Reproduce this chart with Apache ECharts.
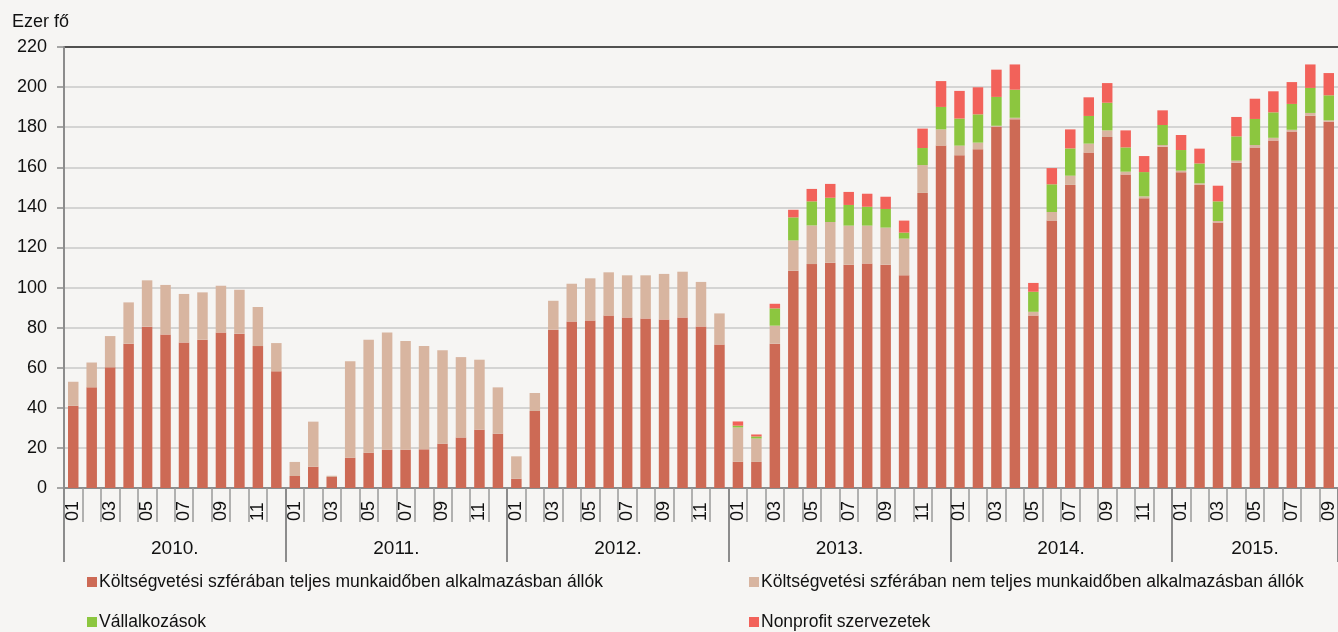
<!DOCTYPE html>
<html>
<head>
<meta charset="utf-8">
<script src="https://cdn.jsdelivr.net/npm/echarts@6/dist/echarts.min.js"></script>
<style>
html,body{margin:0;padding:0;background:#f6f5f3;}
#chart{width:1338px;height:632px;}
</style>
</head>
<body>
<div id="chart"></div>
<script>
const years = ['2010.', '2011.', '2012.', '2013.', '2014.', '2015.'];
const monthsPerYear = [12, 12, 12, 12, 12, 9];
const monthLabels = ['01','02','03','04','05','06','07','08','09','10','11','12'];
const yTicks = [0, 20, 40, 60, 80, 100, 120, 140, 160, 180, 200, 220];

const seriesNames = [
  'Költségvetési szférában teljes munkaidőben alkalmazásban állók',
  'Költségvetési szférában nem teljes munkaidőben alkalmazásban állók',
  'Vállalkozások',
  'Nonprofit szervezetek'
];

const fullTime = [
  41, 50.2, 60.2, 72, 80.5, 76.6, 72.6, 74, 77.6, 77, 70.8, 58.2,
  6, 10.6, 5.5, 15.1, 17.6, 19.1, 19.1, 19.3, 22.1, 25.2, 29.1, 27.1,
  4.6, 38.4, 79, 83.1, 83.6, 86, 85.1, 84.6, 84.1, 85.1, 80.6, 71.6,
  13.1, 13, 72, 108.4, 111.7, 112.4, 111.4, 112, 111.4, 106.1, 147.2, 170.8,
  166, 169, 180.1, 183.9, 86.1, 133.4, 151.2, 167.4, 175.1, 156.4, 144.5, 170.3,
  157.5, 151.2, 132.4, 162.3, 169.9, 173.4, 177.9, 185.7, 182.7
];
const partTime = [
  12, 12.4, 15.6, 20.6, 23.1, 24.7, 24.2, 23.6, 23.3, 21.9, 19.5, 14.1,
  7, 22.5, 0.6, 48.1, 56.4, 58.5, 54.2, 51.5, 46.6, 40.1, 34.9, 23.1,
  11.2, 9, 14.4, 18.8, 21, 21.6, 21, 21.5, 22.7, 22.8, 22.2, 15.5,
  17.1, 11.7, 9, 15.1, 19.3, 20.3, 19.5, 18.9, 18.5, 18.3, 13.9, 8.1,
  4.8, 3.3, 0.6, 0.8, 1.8, 4.3, 4.6, 4.4, 3.3, 1.4, 1.0, 0.8,
  0.8, 0.8, 0.8, 1, 1.2, 1.3, 0.8, 1.4, 0.7
];
const enterprises = [
  null, null, null, null, null, null, null, null, null, null, null, null,
  null, null, null, null, null, null, null, null, null, null, null, null,
  null, null, null, null, null, null, null, null, null, null, null, null,
  0.9, 1.0, 8.6, 11.5, 12, 12.1, 10.3, 9.4, 9.3, 3.0, 8.5, 11.2,
  13.5, 14.1, 14.4, 14, 10, 13.8, 13.6, 13.8, 13.8, 12.1, 12.1, 10,
  10.3, 9.9, 9.8, 12.1, 13, 12.7, 12.9, 12.5, 12.5
];
const nonprofit = [
  null, null, null, null, null, null, null, null, null, null, null, null,
  null, null, null, null, null, null, null, null, null, null, null, null,
  null, null, null, null, null, null, null, null, null, null, null, null,
  2.1, 1.0, 2.3, 3.8, 6.2, 6.9, 6.5, 6.5, 6.1, 6.0, 9.7, 12.9,
  13.8, 13.5, 13.6, 12.6, 4.4, 8.1, 9.5, 9.3, 9.8, 8.5, 8.0, 7.3,
  7.5, 7.4, 7.8, 9.7, 10.1, 10.5, 10.9, 11.7, 11.1
];

const colors = ['#cd6a55', '#d8b5a0', '#8cc63f', '#f2625a'];
const FONT = "'Liberation Sans', Arial, sans-serif";

// month categories
const categories = [];
years.forEach((y, i) => {
  for (let m = 0; m < monthsPerYear[i]; m++) categories.push(y + monthLabels[m]);
});
const nMonths = categories.length;

// half-month point axis for year separators and year labels
const yearAxisData = new Array(2 * nMonths + 1).fill('');
const yearBoundaries = new Set();
let start = 0;
years.forEach((y, i) => {
  yearBoundaries.add(2 * start);
  yearAxisData[2 * start + monthsPerYear[i]] = y;
  start += monthsPerYear[i];
});
yearBoundaries.add(2 * start);

const gridColors = yTicks.map((v, i) => i === yTicks.length - 1 ? '#1a1a1a' : '#c9c9c9');

const chart = echarts.init(document.getElementById('chart'), null, {renderer: 'canvas'});
const option = {
  backgroundColor: '#f6f5f3',
  animation: false,
  textStyle: {fontFamily: FONT},
  title: {
    text: 'Ezer fő', left: 7, top: 8,
    textStyle: {fontFamily: FONT, fontSize: 18, fontWeight: 'normal', color: '#111'}
  },
  legend: seriesNames.map((n, i) => ({
    data: [n],
    left: i % 2 === 0 ? 82 : 744,
    top: i < 2 ? 568 : 608,
    icon: 'rect', itemWidth: 10, itemHeight: 10,
    selectedMode: false,
    textStyle: {fontFamily: FONT, fontSize: 17.5, color: '#111', padding: [0, 0, 0, -3]}
  })),
  grid: {left: 64, top: 47, width: 1282, height: 441, containLabel: false},
  xAxis: [
    {
      type: 'category',
      data: categories,
      position: 'bottom',
      axisLine: {show: true, lineStyle: {color: '#8c8c8c', width: 2}},
      axisTick: {show: true, interval: 0, length: 34, lineStyle: {color: '#9a9a9a', width: 1.5}},
      axisLabel: {
        interval: 1, rotate: 90, margin: 33, align: 'left', verticalAlign: 'middle',
        fontFamily: FONT, fontSize: 18, color: '#111',
        formatter: v => v.slice(-2)
      },
      splitLine: {show: false}
    },
    {
      type: 'category',
      data: yearAxisData,
      position: 'bottom',
      boundaryGap: false,
      axisLine: {show: false},
      axisTick: {
        show: true, length: 74,
        interval: idx => yearBoundaries.has(idx),
        lineStyle: {color: '#8c8c8c', width: 2}
      },
      axisLabel: {
        show: true, margin: 51, fontFamily: FONT, fontSize: 19, color: '#111',
        interval: (idx, v) => v !== ''
      },
      splitLine: {show: false}
    }
  ],
  yAxis: {
    type: 'value', min: 0, max: 220, interval: 20,
    axisLine: {show: true, lineStyle: {color: '#8c8c8c', width: 2}},
    axisTick: {show: true, length: 7, lineStyle: {color: '#8c8c8c', width: 1.5}},
    axisLabel: {margin: 17, fontFamily: FONT, fontSize: 18, color: '#111'},
    splitLine: {show: true, lineStyle: {color: gridColors, width: 1.5}}
  },
  series: [fullTime, partTime, enterprises, nonprofit].map((d, i) => ({
    name: seriesNames[i],
    type: 'bar',
    stack: 'total',
    data: d,
    barWidth: 10.5,
    itemStyle: {color: colors[i]},
    xAxisIndex: 0
  }))
};
chart.setOption(option);
</script>
</body>
</html>
